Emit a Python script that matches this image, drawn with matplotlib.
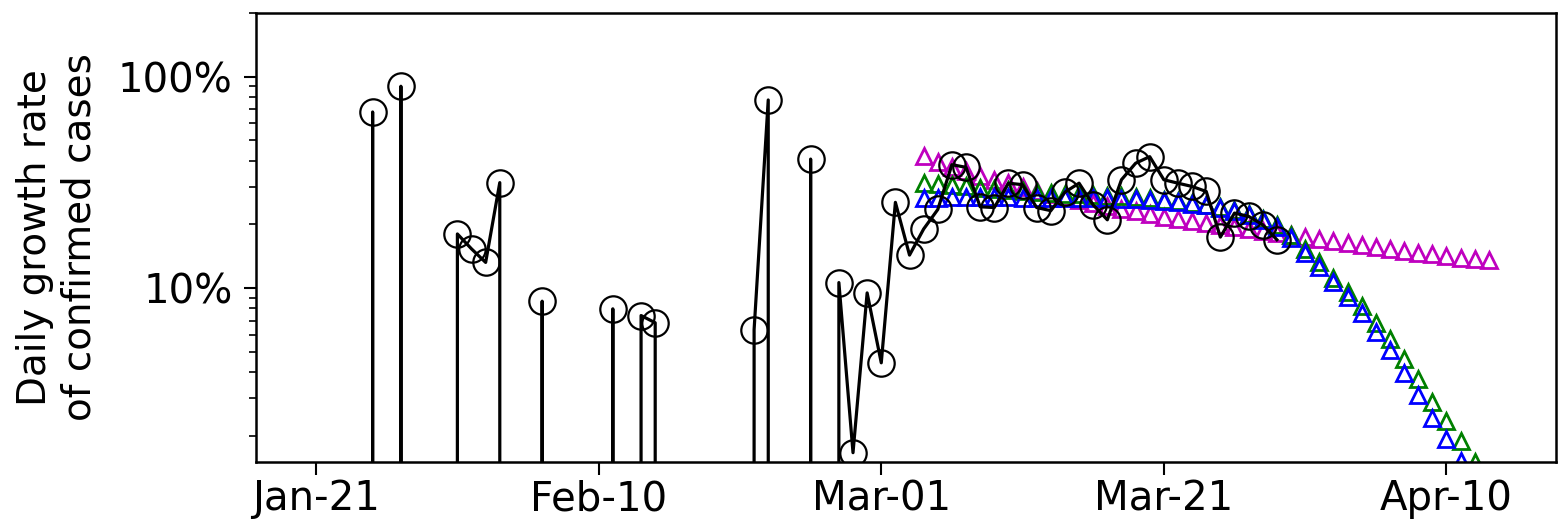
import numpy as np
import matplotlib
matplotlib.use('Agg')
import matplotlib.pyplot as plt
import matplotlib.dates as mdates
from matplotlib.ticker import FuncFormatter, NullFormatter

# observed daily growth rate (%), one value per day from Jan-22; 0 = no new cases
obs_start = '2020-01-22'
obs_rate = [0, 0, 0, 68, 0, 90, 0, 0, 0,
            18.0, 15.3, 13.2, 31.5, 0, 0, 8.65, 0, 0, 0, 0,
            7.96, 0, 7.4, 6.84, 0, 0, 0, 0, 0, 0,
            6.35, 77.5, 0, 0, 40.7, 0, 10.6, 1.66, 9.47, 4.42,
            25.4, 14.3, 19.0, 23.5, 38.3, 37.2, 24.2, 24.0, 31.3, 30.8,
            24.0, 23.2, 28.4, 31.3, 24.7, 21.0, 32.5, 38.9, 41.8, 32.5,
            31.3, 30.2, 28.6, 17.4, 22.6, 21.8, 19.9, 16.9]

# model curves (%), one value per day from Mar-04
model_start = '2020-03-04'
model_m = [41.9, 39.5, 37.5, 35.7, 34.0, 32.5, 31.2, 30.0, 28.9, 27.8,
           26.8, 26.0, 25.2, 24.4, 23.7, 23.0, 22.3, 21.7, 21.2, 20.7,
           20.2, 19.8, 19.4, 19.0, 18.6, 18.2, 17.8, 17.4, 17.0, 16.7,
           16.3, 16.0, 15.6, 15.3, 15.0, 14.7, 14.4, 14.2, 13.9, 13.7, 13.5]
model_g = [31.3, 31.0, 30.6, 30.2, 29.8, 29.4, 29.0, 28.7, 28.4, 28.1,
           27.9, 27.7, 27.5, 27.3, 27.1, 26.9, 26.6, 26.2, 25.8, 25.3,
           24.8, 24.2, 23.4, 22.4, 21.3, 19.8, 17.8, 15.3, 13.2, 11.2,
           9.6, 8.2, 6.8, 5.7, 4.6, 3.7, 2.9, 2.35, 1.88, 1.5, 1.2]
model_b = [26.6, 26.7, 26.8, 26.8, 26.8, 26.8, 26.8, 26.7, 26.7, 26.6,
           26.6, 26.6, 26.5, 26.5, 26.4, 26.3, 26.1, 25.8, 25.4, 25.0,
           24.6, 24.0, 23.2, 22.2, 21.0, 19.4, 17.2, 14.6, 12.6, 10.7,
           9.1, 7.6, 6.2, 5.1, 3.95, 3.1, 2.43, 1.92, 1.52, 1.2, 0.95]

tick_dates = ['2020-01-21', '2020-02-10', '2020-03-01', '2020-03-21', '2020-04-10']

obs_days = np.datetime64(obs_start) + np.arange(len(obs_rate))
model_days = np.datetime64(model_start) + np.arange(len(model_m))

fig = plt.figure(figsize=(15.68, 5.3), dpi=100)
ax = fig.add_axes([0.1633, 0.1283, 0.8290, 0.8472])

tri = dict(marker='^', ms=11.5, mfc='none', mew=2, ls='none')
ax.plot(model_days, model_m, color='m', **tri)
ax.plot(model_days, model_g, color='g', **tri)
ax.plot(model_days, model_b, color='b', **tri)
ax.plot(obs_days, obs_rate, color='k', lw=2.3, marker='o', ms=19,
        mfc='none', mew=1.6)

ax.set_yscale('log')
ax.set_ylim(1.5, 200)
ax.set_xlim(np.datetime64('2020-01-16T18:00'), np.datetime64('2020-04-17T18:00'))

ax.set_xticks([np.datetime64(d) for d in tick_dates])
ax.xaxis.set_major_formatter(mdates.DateFormatter('%b-%d'))
ax.yaxis.set_major_formatter(FuncFormatter(lambda v, _: f'{v:g}%'))
ax.yaxis.set_minor_formatter(NullFormatter())

ax.tick_params(which='major', length=9, width=1.5, labelsize=29)
ax.tick_params(axis='y', pad=8)
ax.tick_params(which='minor', length=5, width=1.2)
for s in ax.spines.values():
    s.set_linewidth(1.8)

ax.set_ylabel('Daily growth rate\nof confirmed cases', fontsize=28, labelpad=14)

fig.savefig('out.png', dpi=100)
